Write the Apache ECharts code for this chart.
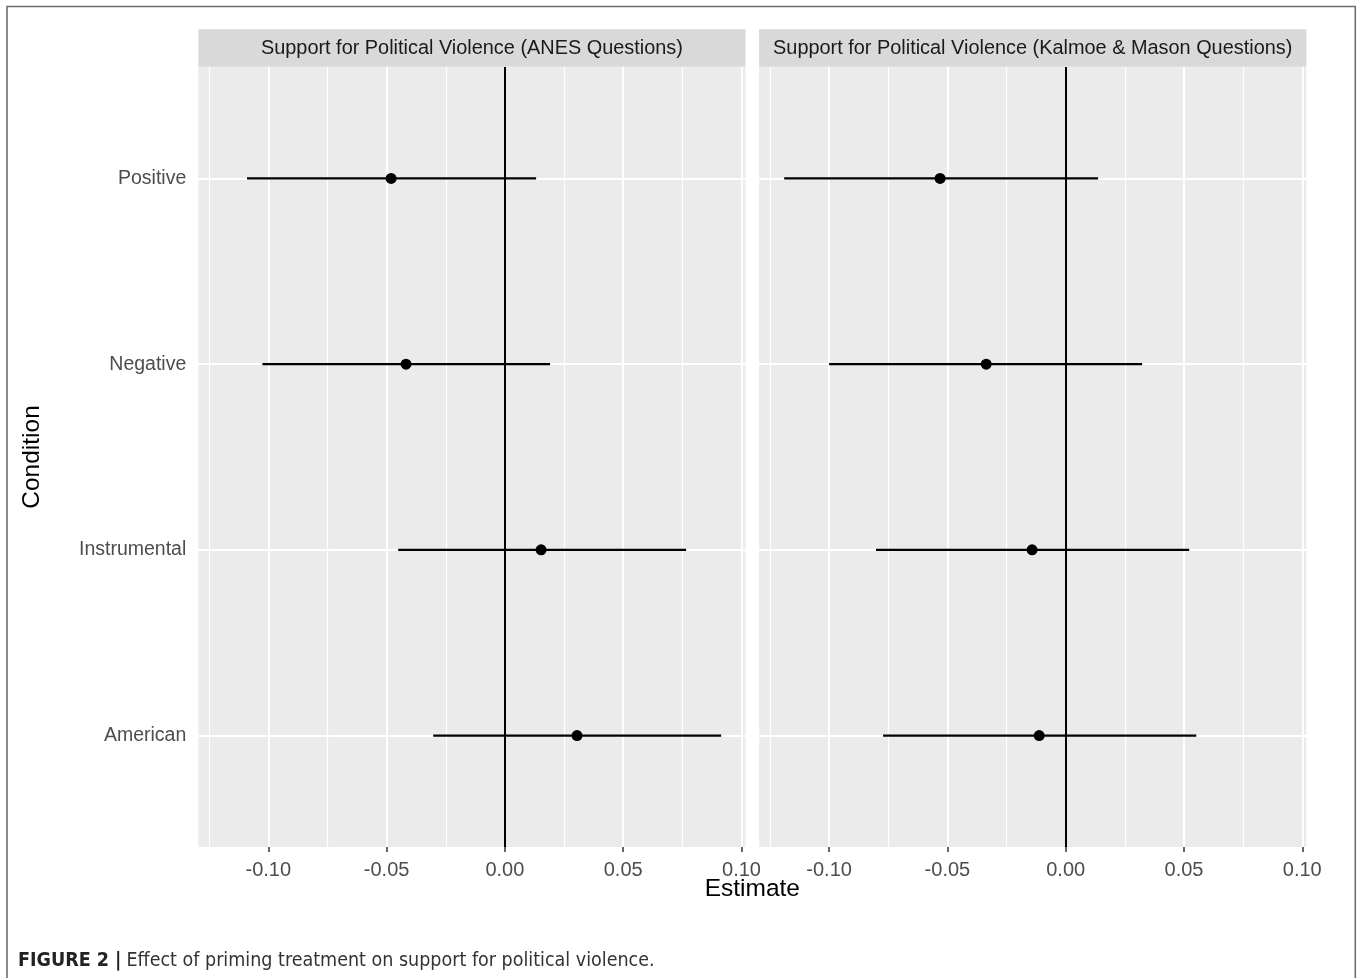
<!DOCTYPE html>
<html>
<head>
<meta charset="utf-8">
<script src="https://cdn.jsdelivr.net/npm/echarts@6/dist/echarts.min.js"></script>
<style>html,body{margin:0;padding:0;background:#fff;}#c{width:1357px;height:978px;}</style>
</head>
<body>
<div id="c"></div>
<script>
const categories = ['Positive', 'Negative', 'Instrumental', 'American'];
const xTicks = [-0.10, -0.05, 0.00, 0.05, 0.10];
const minorGrid = [-0.125, -0.075, -0.025, 0.025, 0.075];
const panelTitles = ['Support for Political Violence (ANES Questions)', 'Support for Political Violence (Kalmoe & Mason Questions)'];
const anesEst = [-0.0481, -0.0418, 0.0153, 0.0305];
const anesLo  = [-0.1090, -0.1025, -0.0451, -0.0303];
const anesHi  = [0.0132, 0.0191, 0.0766, 0.0914];
const kmEst = [-0.0531, -0.0336, -0.0142, -0.0112];
const kmLo  = [-0.1190, -0.1000, -0.0802, -0.0772];
const kmHi  = [0.0137, 0.0323, 0.0522, 0.0552];
const xAxisTitle = 'Estimate';
const yAxisTitle = 'Condition';
const caption = 'Effect of priming treatment on support for political violence.';
const captionLabel = 'FIGURE 2 |';

const FONT = '"Liberation Sans", Arial, Helvetica, sans-serif';
const CAPFONT = '"Liberation Sans Narrow", "DejaVu Sans Condensed", ' + FONT;
const panelLeft = [198.3, 759.1];
const panelW = 547.2, panelTop = 67, panelH = 780;
const X_MIN = -0.1296, X_MAX = 0.1017;

const panels = [
  {est: anesEst, lo: anesLo, hi: anesHi},
  {est: kmEst, lo: kmLo, hi: kmHi}
];

const grids = panelLeft.map(l => ({left: l, top: panelTop, width: panelW, height: panelH, backgroundColor: '#ebebeb', show: true, borderWidth: 0, z: 0}));

const xAxes = panelLeft.map((l, i) => ({
  type: 'value', gridIndex: i, min: X_MIN, max: X_MAX,
  axisLine: {show: false},
  splitLine: {show: false},
  axisTick: {show: true, customValues: xTicks, length: 5, lineStyle: {color: '#333', width: 1.5}},
  axisLabel: {show: true, customValues: xTicks, margin: 13, fontSize: 20, color: '#4d4d4d', fontFamily: FONT,
    formatter: v => v.toFixed(2)}
}));

const yAxes = panelLeft.map((l, i) => ({
  type: 'value', gridIndex: i, min: 0.4, max: 4.6, inverse: true,
  axisLine: {show: false},
  splitLine: {show: false},
  name: i === 0 ? yAxisTitle : '',
  nameLocation: 'middle', nameRotate: 90, nameGap: 154,
  nameTextStyle: {fontSize: 24.5, color: '#000', fontFamily: FONT},
  axisTick: {show: i === 0, customValues: [1, 2, 3, 4], length: 5, lineStyle: {color: '#333', width: 1.5}},
  axisLabel: {show: i === 0, customValues: [1, 2, 3, 4], margin: 12, fontSize: 19.5, color: '#4d4d4d', fontFamily: FONT,
    formatter: v => categories[Math.round(v) - 1] || ''}
}));

const series = [];
panels.forEach((p, i) => {
  // background grid lines
  const mlData = [];
  minorGrid.forEach(v => mlData.push({xAxis: v, lineStyle: {color: '#ffffff', width: 1.2, type: 'solid'}}));
  xTicks.forEach(v => mlData.push({xAxis: v, lineStyle: {color: '#ffffff', width: 2, type: 'solid'}}));
  categories.forEach((c, k) => mlData.push({yAxis: k + 1, lineStyle: {color: '#ffffff', width: 2, type: 'solid'}}));
  series.push({
    type: 'scatter', xAxisIndex: i, yAxisIndex: i, data: [], z: 1, silent: true,
    markLine: {z: 1, precision: 6, silent: true, symbol: ['none', 'none'], label: {show: false}, animation: false, data: mlData}
  });
  // zero reference line
  series.push({
    type: 'scatter', xAxisIndex: i, yAxisIndex: i, data: [], z: 2, silent: true,
    markLine: {z: 2, precision: 6, silent: true, symbol: ['none', 'none'], label: {show: false}, animation: false,
      data: [{xAxis: 0, lineStyle: {color: '#000', width: 2, type: 'solid'}}]}
  });
  // error bars (one segment per condition)
  categories.forEach((c, k) => {
    series.push({
      type: 'line', xAxisIndex: i, yAxisIndex: i, z: 3, silent: true,
      showSymbol: false, symbol: 'none',
      lineStyle: {color: '#000', width: 2.3},
      data: [[p.lo[k], k + 1], [p.hi[k], k + 1]]
    });
  });
  // points
  series.push({
    type: 'scatter', xAxisIndex: i, yAxisIndex: i, z: 4, silent: true,
    symbol: 'circle', symbolSize: 11, itemStyle: {color: '#000', opacity: 1},
    data: categories.map((c, k) => [p.est[k], k + 1])
  });
});

const graphics = [];
panelLeft.forEach((l, i) => {
  graphics.push({type: 'rect', left: l, top: 29.3, shape: {width: panelW, height: 37.5}, style: {fill: '#d9d9d9'}, silent: true});
  graphics.push({type: 'text', x: l + panelW / 2, y: 48.5, silent: true,
    style: {text: panelTitles[i], fontSize: 19.9, fill: '#1a1a1a', fontFamily: FONT, align: 'center', verticalAlign: 'middle'}});
});
graphics.push({type: 'text', x: (panelLeft[0] + panelLeft[1] + panelW) / 2, y: 889, silent: true,
  style: {text: xAxisTitle, fontSize: 24.5, fill: '#000', fontFamily: FONT, align: 'center', verticalAlign: 'middle'}});
graphics.push({type: 'polyline', silent: true,
  shape: {points: [[7, 980], [7, 6.5], [1355.3, 6.5], [1355.3, 980]]},
  style: {stroke: '#6e6e6e', lineWidth: 1.6, fill: null}});

const option = {
  animation: false,
  backgroundColor: '#ffffff',
  title: {
    text: '{b|' + captionLabel + '} {r|' + caption + '}',
    left: 13, top: 946,
    textStyle: {fontWeight: 'normal', rich: {
      b: {fontWeight: 'bold', fontSize: 19.5, color: '#222', fontFamily: CAPFONT},
      r: {fontWeight: 'normal', fontSize: 19.5, color: '#333', fontFamily: CAPFONT}
    }}
  },
  grid: grids,
  xAxis: xAxes,
  yAxis: yAxes,
  series: series,
  graphic: graphics
};

const chart = echarts.init(document.getElementById('c'), null, {renderer: 'canvas'});
chart.setOption(option);
</script>
</body>
</html>
